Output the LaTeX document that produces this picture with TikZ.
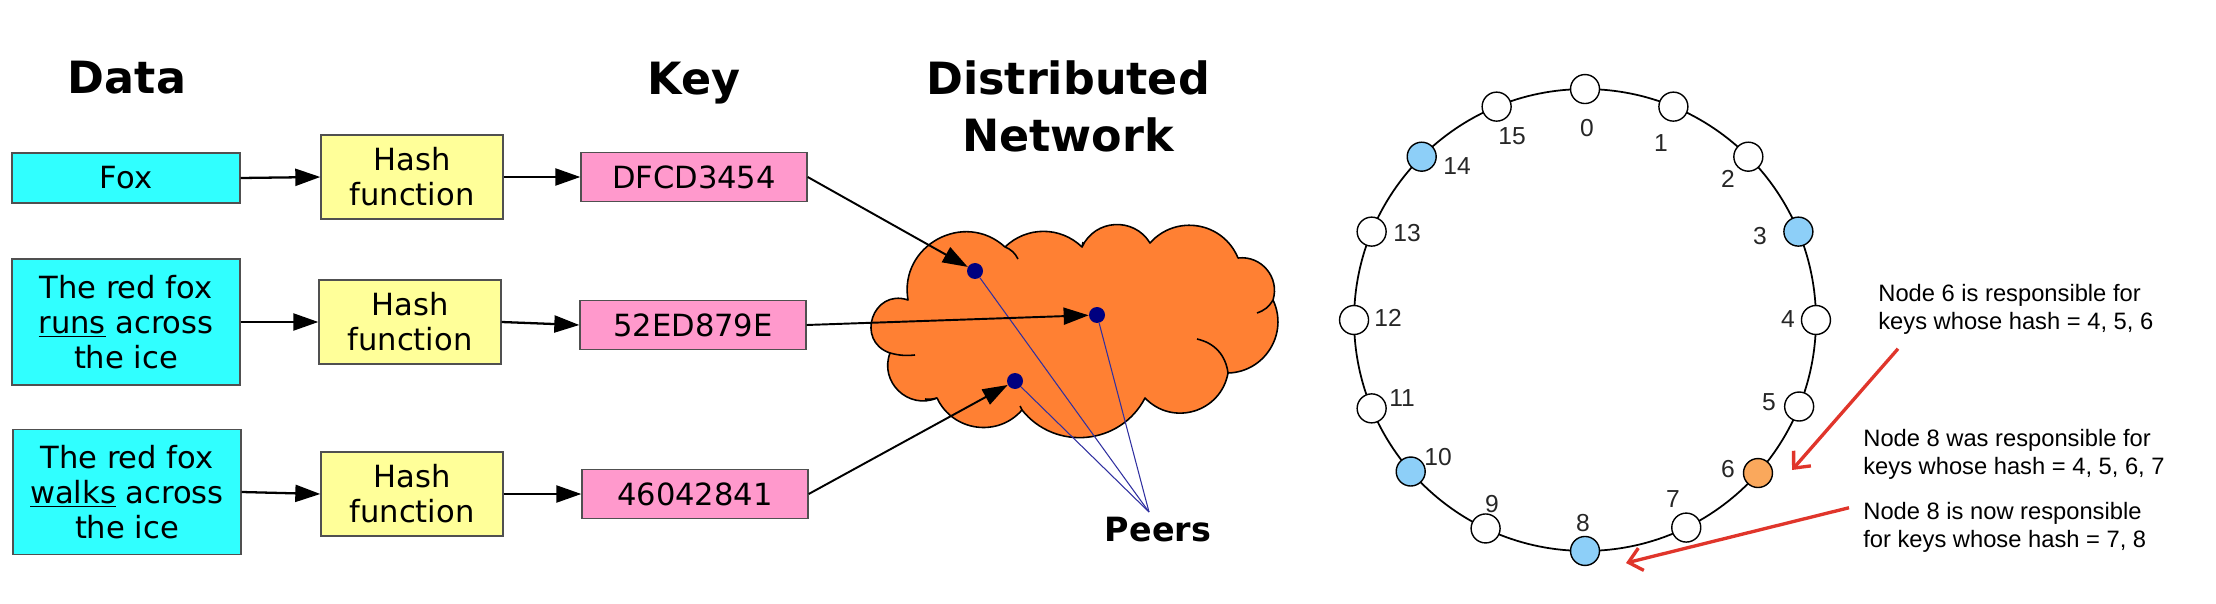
\documentclass[tikz,border=0pt]{standalone}
\usepackage{fontspec}
\setmainfont{DejaVu Sans}
\newfontfamily\notefont{Liberation Sans}
\usetikzlibrary{arrows.meta,positioning}
\definecolor{datacyan}{HTML}{30FFFF}
\definecolor{hashyellow}{HTML}{FFFF99}
\definecolor{keypink}{HTML}{FF99CC}
\definecolor{cloudorange}{HTML}{FF8033}
\definecolor{peerdot}{HTML}{000080}
\definecolor{peerline}{HTML}{3030A0}
\definecolor{ringblue}{HTML}{8DCFF8}
\definecolor{ringorange}{HTML}{FAA85C}
\definecolor{notered}{HTML}{E0352B}
\definecolor{boxedge}{HTML}{505050}
\tikzset{
	box/.style={draw=boxedge,line width=0.8pt,inner sep=0pt,align=center,
		font=\fontsize{17.4}{20}\selectfont},
	data box/.style={box,fill=datacyan,minimum width=4.56cm},
	hash box/.style={box,fill=hashyellow,minimum width=3.64cm,minimum height=1.68cm},
	key box/.style={box,fill=keypink,minimum width=4.52cm,minimum height=0.98cm},
	title/.style={font=\fontsize{25.3}{32.4}\selectfont\bfseries,align=center,inner sep=0pt},
	ar/.style={-{Triangle[length=0.5cm,width=0.34cm]},line width=1.3pt},
	puff/.style={bend left=#1},
	peer/.style={circle,fill=peerdot,minimum size=0.32cm,inner sep=0pt},
	peer line/.style={draw=peerline,line width=0.6pt},
	ring node/.style={circle,draw,line width=0.8pt,minimum size=0.58cm,inner sep=0pt},
	num/.style={font=\notefont\fontsize{14}{14}\selectfont,inner sep=0pt,text=black!85},
	note/.style={font=\notefont\fontsize{13.5}{15.9}\selectfont,align=left,inner sep=0pt},
	note ar/.style={draw=notered,line width=1.9pt,-{Straight Barb[length=0.26cm,width=0.46cm]}}
}
\begin{document}
\begin{tikzpicture}[x=0.02cm,y=-0.02cm]
	\useasboundingbox (0,0) rectangle (2216,604);
	% column titles
	\node[title,anchor=base] (tdata) at (127,94) {Data};
	\node[title,anchor=base] (tkey) at (694,95) {Key};
	\node[title] (tnet) at (1068,106) {Distributed\\Network};
	% data -> hash -> key
	\node[data box,minimum height=1cm] (d1) at (126,178) {Fox};
	\node[data box,minimum height=2.52cm] (d2) at (126,322) {The red fox\\\underline{runs} across\\the ice};
	\node[data box,minimum height=2.5cm] (d3) at (127,492) {The red fox\\\underline{walks} across\\the ice};
	\node[hash box] (h1) at (412,177) {Hash\\function};
	\node[hash box] (h2) at (410,322) {Hash\\function};
	\node[hash box] (h3) at (412,494) {Hash\\function};
	\node[key box] (k1) at (694,177) {DFCD3454};
	\node[key box] (k2) at (693,325) {52ED879E};
	\node[key box] (k3) at (695,494) {46042841};
	\foreach \i in {1,2,3} {
		\draw[ar] (d\i.east) -- (h\i.west);
		\draw[ar] (h\i.east) -- (k\i.west);
	}
	% network cloud
	\draw[line width=0.9pt,fill=cloudorange,line join=round]
		(908,300) to[puff=71,looseness=1.28] (1005,247) to[puff=44,looseness=1] (1082,247)
		to[puff=62,looseness=1.16] (1150,243) to[puff=58,looseness=1.12] (1238,258)
		to[puff=57,looseness=1.1] (1273,300) to[puff=57,looseness=1.1] (1228,373)
		to[puff=63,looseness=1.18] (1145,398) to[puff=57,looseness=1.1] (1022,410)
		to[puff=57,looseness=1.1] (937,398) to[puff=67,looseness=1.22] (890,353)
		to[puff=90,looseness=1.7] (908,300) -- cycle;
	\draw[line width=0.9pt] (1005,247) to[bend left=20] (1018,259);
	\draw[line width=0.9pt] (1197,339) to[bend left=35] (1228,373);
	\draw[line width=0.9pt] (1273,300) to[bend left=20] (1257,313);
	\draw[line width=0.9pt] (890,353) to[bend right=10] (915,355);
	\draw[line width=0.9pt] (1082,247) -- (1083,242);
	\draw[line width=0.9pt] (937,398) to[bend left=10] (925,399);
	\draw[line width=0.9pt] (1022,410) -- (1020,406);
	\node[peer] (p1) at (975,271) {};
	\node[peer] (p2) at (1097,315) {};
	\node[peer] (p3) at (1015,381) {};
	\node[font=\fontsize{19}{19}\selectfont\bfseries,anchor=base,inner sep=0pt] (peers) at (1158,541) {Peers};
	\coordinate (hub) at (1149,512);
	\foreach \i in {1,2,3} {
		\draw[peer line] (p\i) -- (hub);
		\draw[ar,line width=1.1pt] (k\i.east) -- (p\i);
	}
	% ring
	\coordinate (ringc) at (1585,320);
	\draw[line width=1pt] (ringc) circle[radius=4.62cm];
	\foreach \i/\ang/\col/\lx/\ly in {0/90/white/1587/128,1/67.5/white/1661/143,2/45/white/1728/179,
		3/22.5/ringblue/1760/236,4/0/white/1788/319,5/-22/white/1769/402,6/-41.5/ringorange/1728/469,
		7/-64/white/1673/499,8/-90/ringblue/1583/523,9/-115.5/white/1492/504,10/-139/ringblue/1438/457,
		11/-157.5/white/1402/398,12/180/white/1388/318,13/157.5/white/1407/233,14/135/ringblue/1457/166,
		15/112.5/white/1512/136} {
		\node[ring node,fill=\col] (r\i) at ([shift={(\ang:4.62cm)}]ringc) {};
		\node[num] (n\i) at (\lx,\ly) {\i};
	}
	% notes
	\node[note,anchor=north west] (note6) at (1878,284) {Node 6 is responsible for\\keys whose hash = 4, 5, 6};
	\node[note,anchor=north west] (note8a) at (1863,429) {Node 8 was responsible for\\keys whose hash = 4, 5, 6, 7};
	\node[note,below=0.44cm of note8a.south west,anchor=north west] (note8b) {Node 8 is now responsible\\for keys whose hash = 7, 8};
	\coordinate (tip6) at (1792,470);
	\coordinate (tip8) at (1626,563);
	\draw[note ar] ([shift={(20,14)}]note6.south west) -- (tip6);
	\draw[note ar] ([shift={(-14,6)}]note8b.north west) -- (tip8);
\end{tikzpicture}
\end{document}
